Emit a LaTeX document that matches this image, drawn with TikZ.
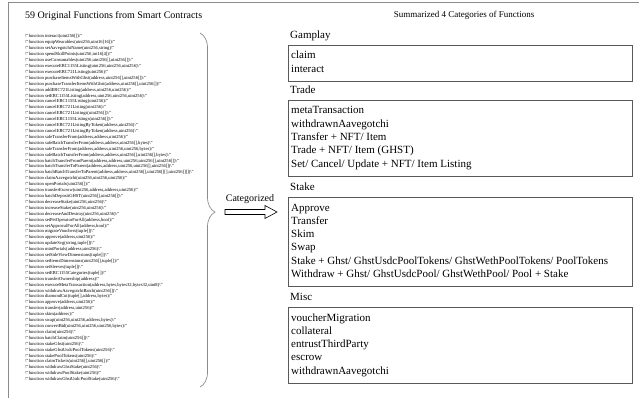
\documentclass[tikz,border=0pt]{standalone}
\usepackage{fontspec}
\setmainfont{Liberation Serif}
\usetikzlibrary{decorations.pathreplacing}
\newcommand{\fn}[1]{\textbackslash"function #1\textbackslash"}
\tikzset{
  frameline/.style={draw=black!45, line width=0.8pt},
  catbox/.style={draw=black!65, line width=0.7pt},
  catlabel/.style={anchor=base west, inner sep=0pt, font=\fontsize{11}{13}\selectfont},
  catitem/.style={anchor=base west, inner sep=0pt, font=\fontsize{11}{13}\selectfont},
}
\begin{document}
\begin{tikzpicture}[x=1pt,y=-1pt]
\useasboundingbox (0,0) rectangle (639,398);
% frame (top and left)
\draw[frameline] (8,398) -- (8,2.5) -- (639,2.5);
% titles
\node[anchor=base west, inner sep=0pt, font=\fontsize{10}{12}\selectfont] (ltitle) at (25,18.5) {59 Original Functions from Smart Contracts};
\node[anchor=base, inner sep=0pt, font=\fontsize{9}{11}\selectfont] (rtitle) at (464,18) {Summarized 4 Categories of Functions};
% list of functions
\node[anchor=north west, inner sep=0pt, align=left, font=\fontsize{4.6}{5.91}\selectfont] (list) at (25,34.5) {%
\fn{interact(uint256[])}\\
\fn{equipWearables(uint256,uint16[16])}\\
\fn{setAavegotchiName(uint256,string)}\\
\fn{spendSkillPoints(uint256,int16[4])}\\
\fn{useConsumables(uint256,uint256[],uint256[])}\\
\fn{executeERC1155Listing(uint256,uint256,uint256)}\\
\fn{executeERC721Listing(uint256)}\\
\fn{purchaseItemsWithGhst(address,uint256[],uint256[])}\\
\fn{purchaseTransferItemsWithGhst(address,uint256[],uint256[])}\\
\fn{addERC721Listing(address,uint256,uint256)}\\
\fn{setERC1155Listing(address,uint256,uint256,uint256)}\\
\fn{cancelERC1155Listing(uint256)}\\
\fn{cancelERC721Listing(uint256)}\\
\fn{cancelERC721Listings(uint256[])}\\
\fn{cancelERC1155Listings(uint256[])}\\
\fn{cancelERC721ListingByToken(address,uint256)}\\
\fn{cancelERC721ListingByToken(address,uint256)}\\
\fn{safeTransferFrom(address,address,uint256)}\\
\fn{safeBatchTransferFrom(address,address,uint256[],bytes)}\\
\fn{safeTransferFrom(address,address,uint256,uint256,bytes)}\\
\fn{safeBatchTransferFrom(address,address,uint256[],uint256[],bytes)}\\
\fn{batchTransferFromParent(address,address,uint256,uint256[],uint256[])}\\
\fn{batchTransferToParent(address,address,uint256,uint256[],uint256[])}\\
\fn{batchBatchTransferToParent(address,address,uint256[],uint256[][],uint256[][])}\\
\fn{claimAavegotchi(uint256,uint256,uint256)}\\
\fn{openPortals(uint256[])}\\
\fn{transferEscrow(uint256,address,address,uint256)}\\
\fn{batchDepositGHST(uint256[],uint256[])}\\
\fn{decreaseStake(uint256,uint256)}\\
\fn{increaseStake(uint256,uint256)}\\
\fn{decreaseAndDestroy(uint256,uint256)}\\
\fn{setPetOperatorForAll(address,bool)}\\
\fn{setApprovalForAll(address,bool)}\\
\fn{migrateVouchers(tuple[])}\\
\fn{approve(address,uint256)}\\
\fn{updateSvg(string,tuple[])}\\
\fn{mintPortals(address,uint256)}\\
\fn{setSideViewDimensions(tuple[])}\\
\fn{setItemsDimensions(uint256[],tuple[])}\\
\fn{setSleeves(tuple[])}\\
\fn{setERC1155Categories(tuple[])}\\
\fn{transferOwnership(address)}\\
\fn{executeMetaTransaction(address,bytes,bytes32,bytes32,uint8)}\\
\fn{withdrawAavegotchiBatch(uint256[])}\\
\fn{diamondCut(tuple[],address,bytes)}\\
\fn{approve(address,uint256)}\\
\fn{transfer(address,uint256)}\\
\fn{skim(address)}\\
\fn{swap(uint256,uint256,address,bytes)}\\
\fn{convertBid(uint256,uint256,uint256,bytes)}\\
\fn{claim(uint256)}\\
\fn{batchClaim(uint256[])}\\
\fn{stakeGhst(uint256)}\\
\fn{stakeGhstUsdcPoolTokens(uint256)}\\
\fn{stakePoolTokens(uint256)}\\
\fn{claimTickets(uint256[],uint256[])}\\
\fn{withdrawGhstStake(uint256)}\\
\fn{withdrawPoolStake(uint256)}\\
\fn{withdrawGhstUsdcPoolStake(uint256)}};
% brace
\draw[draw=black!45, line width=0.7pt, decorate, decoration={brace, amplitude=15pt, aspect=0.506}] (200,33) -- (200,387);
% categorized arrow
\node[anchor=base, inner sep=0pt, font=\fontsize{10}{12}\selectfont] (cat) at (250,201.5) {Categorized};
\draw[line width=0.6pt] (225,209.5) -- (265,209.5) -- (265,205.5) -- (277,212) -- (265,218.5) -- (265,214.5) -- (225,214.5) -- cycle;
% categories
\node[catlabel] (lg) at (290,38.5) {Gamplay};
\draw[catbox] (288,45) rectangle (632,81);
\foreach \t [count=\i from 0] in {claim,interact}
  \node[catitem] (g\i) at (291,59+13.3*\i) {\t};
\node[catlabel] (lt) at (290,94) {Trade};
\draw[catbox] (288,100) rectangle (632,176);
\foreach \t [count=\i from 0] in {metaTransaction,withdrawnAavegotchi,Transfer + NFT/ Item,Trade + NFT/ Item (GHST),Set/ Cancel/ Update + NFT/ Item Listing}
  \node[catitem] (t\i) at (291,114+13.3*\i) {\t};
\node[catlabel] (ls) at (290,190) {Stake};
\draw[catbox] (288,197) rectangle (632,286);
\foreach \t [count=\i from 0] in {Approve,Transfer,Skim,Swap,Stake + Ghst/ GhstUsdcPoolTokens/ GhstWethPoolTokens/ PoolTokens,Withdraw + Ghst/ GhstUsdcPool/ GhstWethPool/ Pool + Stake}
  \node[catitem] (s\i) at (291,211+13.3*\i) {\t};
\node[catlabel] (lm) at (290,300) {Misc};
\draw[catbox] (288,307) rectangle (632,383);
\foreach \t [count=\i from 0] in {voucherMigration,collateral,entrustThirdParty,escrow,withdrawnAavegotchi}
  \node[catitem] (m\i) at (291,321+13.3*\i) {\t};
\end{tikzpicture}
\end{document}
